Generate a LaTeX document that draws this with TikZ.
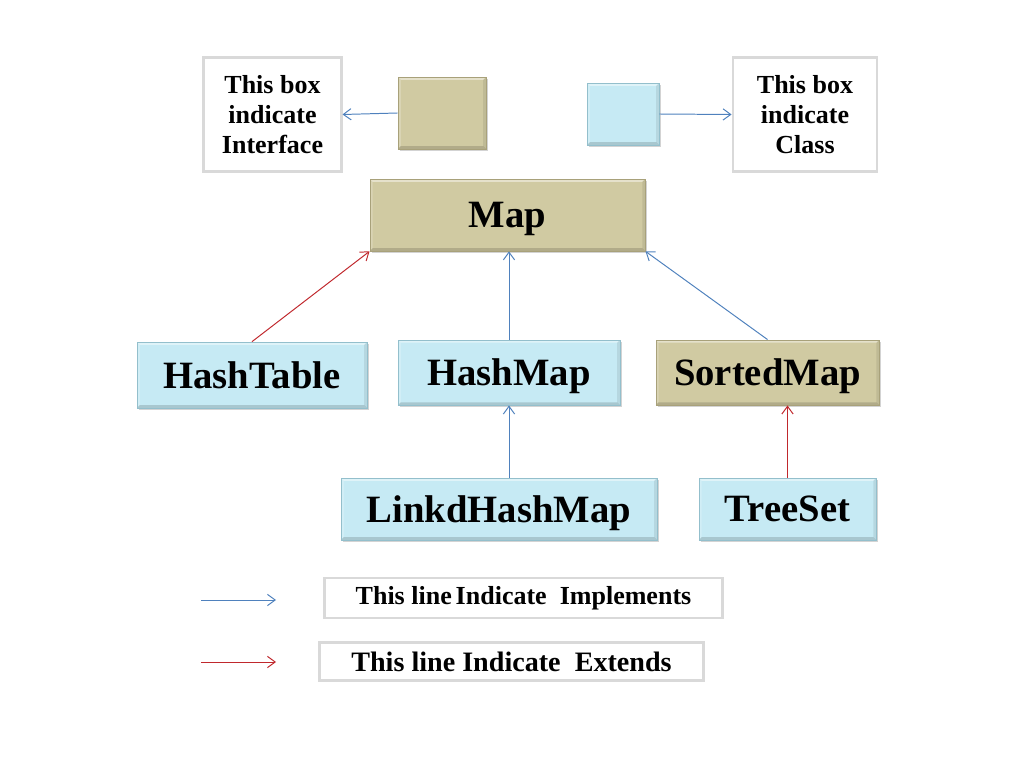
\documentclass[tikz,border=0pt]{standalone}
\usepackage{fontspec}
\setmainfont{Liberation Serif}
\usepackage{tikz}
\usetikzlibrary{arrows.meta,positioning,calc,shadows}
\definecolor{IfaceTan}{HTML}{D0CAA2}
\definecolor{IfaceEdge}{HTML}{A8A17A}
\definecolor{ClassBlue}{HTML}{C6EAF4}
\definecolor{ClassEdge}{HTML}{93BFCC}
\definecolor{NoteGray}{HTML}{D9D9D9}
\definecolor{ImplBlue}{HTML}{4F81BD}
\definecolor{ExtRed}{HTML}{C0282D}

\begin{document}
\begin{tikzpicture}[
  x=0.025cm,y=-0.025cm,
  impl/.style={
    -{Straight Barb[length=5.5pt,width=8pt]},
    line width=0.7pt,
    draw=ImplBlue
  },
  ext/.style={
    -{Straight Barb[length=5.5pt,width=8pt]},
    line width=0.7pt,
    draw=ExtRed
  },
  bevel/.style={
    path picture={
      \fill[white,opacity=0.45] (path picture bounding box.north west)
        -- (path picture bounding box.north east)
        -- ([xshift=-2pt,yshift=-2pt]path picture bounding box.north east)
        -- ([xshift=2pt,yshift=-2pt]path picture bounding box.north west) -- cycle;
      \fill[white,opacity=0.2] (path picture bounding box.north west)
        -- ([xshift=2pt,yshift=-2pt]path picture bounding box.north west)
        -- ([xshift=2pt,yshift=2pt]path picture bounding box.south west)
        -- (path picture bounding box.south west) -- cycle;
      \fill[black,opacity=0.15] (path picture bounding box.south west)
        -- (path picture bounding box.south east)
        -- ([xshift=-2pt,yshift=2pt]path picture bounding box.south east)
        -- ([xshift=2pt,yshift=2pt]path picture bounding box.south west) -- cycle;
      \fill[black,opacity=0.08] (path picture bounding box.north east)
        -- ([xshift=-2pt,yshift=-2pt]path picture bounding box.north east)
        -- ([xshift=-2pt,yshift=2pt]path picture bounding box.south east)
        -- (path picture bounding box.south east) -- cycle;
    }
  },
  ifacebox/.style={
    bevel,
    fill=IfaceTan,
    draw=IfaceEdge,
    line width=0.5pt,
    inner sep=0pt,
    text depth=0pt,
    drop shadow={shadow xshift=1.2pt,shadow yshift=-1.6pt,opacity=0.35},
    font=\fontsize{27.5}{30}\selectfont\bfseries
  },
  classbox/.style={
    bevel,
    fill=ClassBlue,
    draw=ClassEdge,
    line width=0.5pt,
    inner sep=0pt,
    text depth=0pt,
    drop shadow={shadow xshift=1.2pt,shadow yshift=-1.6pt,opacity=0.35},
    font=\fontsize{27.5}{30}\selectfont\bfseries
  },
  notebox/.style={
    draw=NoteGray,
    line width=2pt,
    fill=white,
    align=center,
    inner sep=0pt,
    font=\fontsize{18.5}{21.3}\selectfont\bfseries
  }
]
\useasboundingbox (0,0) rectangle (1021,767);

% -------------------------------------------------
% Key boxes at the top
% -------------------------------------------------
\node[notebox, minimum width=3.43cm, minimum height=2.83cm] (ifacelabel) at (272.5,114.5)
  {This box\\indicate\\Interface};
\node[ifacebox, minimum width=2.2cm, minimum height=1.8cm] (ifacekey) at (442,113) {};

\node[classbox, minimum width=1.8cm, minimum height=1.55cm] (classkey) at (623,114) {};
\node[notebox, minimum width=3.6cm, minimum height=2.83cm] (classlabel) at (805,114.5)
  {This box\\indicate\\Class};

\draw[impl] (ifacekey.west) -- (ifacelabel.east);
\draw[impl] (classkey.east) -- (classlabel.west);

% -------------------------------------------------
% Map hierarchy
% -------------------------------------------------
\node[ifacebox, minimum width=6.88cm, minimum height=1.8cm] (map) at (507.5,215) {Map};

\node[classbox, minimum width=5.75cm, minimum height=1.65cm] (hashtable) at (252,375) {HashTable};
\node[classbox, minimum width=5.55cm, minimum height=1.63cm] (hashmap) at (509,372.5) {HashMap};
\node[ifacebox, minimum width=5.58cm, minimum height=1.63cm] (sortedmap) at (767.5,372.5) {SortedMap};

\node[classbox, minimum width=7.9cm, minimum height=1.55cm] (linkedmap) at (499,509) {LinkdHashMap};
\node[classbox, minimum width=4.43cm, minimum height=1.55cm] (treeset) at (787.5,509) {TreeSet};

\draw[ext]  (hashtable.north) -- (map.south west);
\draw[impl] (hashmap.north) -- (hashmap.north |- map.south);
\draw[impl] (sortedmap.north) -- (map.south east);
\draw[impl] (linkedmap.north -| hashmap.south) -- (hashmap.south);
\draw[ext]  (treeset.north) -- (treeset.north |- sortedmap.south);

% -------------------------------------------------
% Line legend
% -------------------------------------------------
\coordinate (implstart) at (201,600);
\coordinate (implend) at (276,600);
\coordinate (extstart) at (201,662);
\coordinate (extend) at (276,662);

\node[notebox, minimum width=9.93cm, minimum height=1.0cm] (impllabel) at (523.5,598)
  {This line\hspace{0.15em}Indicate\ \ Implements};
\node[notebox, minimum width=9.58cm, minimum height=0.93cm,
  font=\fontsize{20}{22}\selectfont\bfseries] (extlabel) at (511.5,661.5)
  {This line Indicate\ \ Extends};

\draw[impl] (implstart) -- (implend);
\draw[ext]  (extstart) -- (extend);

\end{tikzpicture}
\end{document}
